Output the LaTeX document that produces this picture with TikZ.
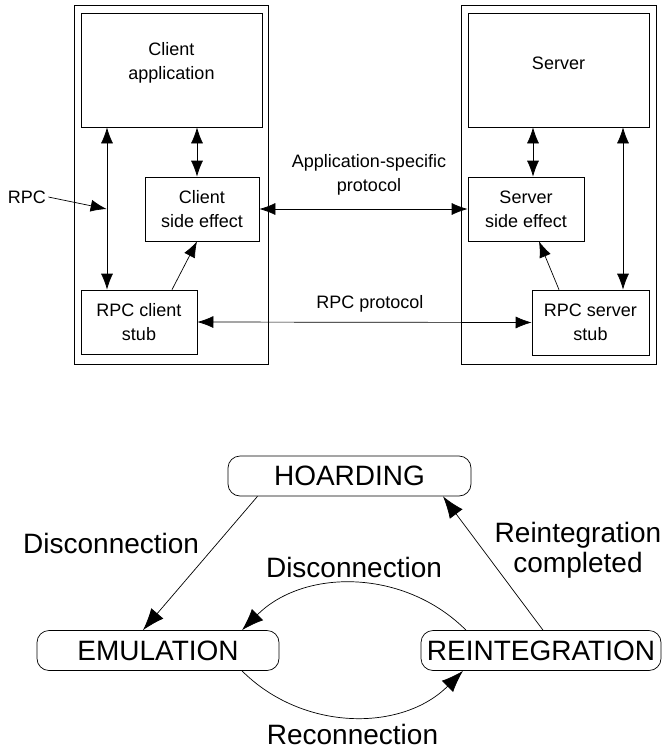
\documentclass[tikz,border=0pt]{standalone}
\usepackage{fontspec}
\setmainfont{Liberation Sans}
\usetikzlibrary{arrows.meta, positioning}

\begin{document}
\begin{tikzpicture}[x=1pt, y=-1pt, line width=0.7pt,
    box/.style={draw, inner sep=0pt, align=center, font=\fontsize{18}{24}\selectfont},
    lbl/.style={inner sep=2pt, align=center, font=\fontsize{18}{24}\selectfont},
    mode/.style={draw, rounded corners=12pt, inner sep=0pt, minimum height=40pt, font=\fontsize{28}{30}\selectfont},
    tag/.style={inner sep=0pt, align=center, font=\fontsize{28}{30}\selectfont},
    arr/.style={-{Latex[length=16pt,width=12pt]}},
    dbl/.style={{Latex[length=16pt,width=12pt]}-{Latex[length=16pt,width=12pt]}},
    big/.style={-{Latex[length=22pt,width=16pt]}}]
        \useasboundingbox (0,0) rectangle (662,750);

        \node[box, minimum width=194pt, minimum height=359pt] (cbox) at (171,184.5) {};
        \node[box, minimum width=181pt, minimum height=114pt, text depth=18pt] (capp) at (171.5,70) {Client\\application};
        \node[box, minimum width=114pt, minimum height=64pt] (cse) at (202,209) {Client\\side effect};
        \node[box, minimum width=116pt, minimum height=64pt] (cstub) at (139,322) {RPC client\\stub};

        \node[box, minimum width=195pt, minimum height=359pt] (sbox) at (558.5,184.5) {};
        \node[box, minimum width=181pt, minimum height=114pt, text depth=14pt] (srv) at (558.5,70) {Server};
        \node[box, minimum width=116pt, minimum height=64pt] (sse) at (526,209) {Server\\side effect};
        \node[box, minimum width=117pt, minimum height=65pt] (sstub) at (590.5,322.5) {RPC server\\stub};

        \node[lbl] (rpc) at (27,197) {RPC};
        \node[lbl] (asp) at (369,175) {Application-specific\\protocol};
        \node[lbl] (rpcp) at (370,304) {RPC protocol};

        \draw[dbl] ([xshift=-64.5pt]capp.south) -- ([xshift=-32pt]cstub.north);
        \draw[dbl] ([xshift=25.5pt]capp.south) -- ([xshift=-5pt]cse.north);
        \draw[arr] (rpc.east) -- ([xshift=-38pt]cse.west);
        \draw[arr] ([xshift=33pt]cstub.north) -- ([xshift=-5pt]cse.south);
        \draw[dbl] (cse.east) -- (sse.west);
        \draw[dbl] (cstub.east) -- (sstub.west);
        \draw[dbl] ([xshift=-25.5pt]srv.south) -- ([xshift=7pt]sse.north);
        \draw[dbl] ([xshift=64.5pt]srv.south) -- ([xshift=32.5pt]sstub.north);
        \draw[arr] ([xshift=-31.5pt]sstub.north) -- ([xshift=13pt]sse.south);

        \node[mode, minimum width=243pt] (hoard) at (349.5,476) {HOARDING};
        \node[mode, minimum width=242pt] (emu) at (158,650.5) {EMULATION};
        \node[mode, minimum width=240pt] (reint) at (541,650.5) {REINTEGRATION};

        \draw[big] ([xshift=-92pt]hoard.south) -- node[tag, left=18pt, pos=0.35] {Disconnection} ([xshift=-15pt]emu.north);
        \draw[big] ([xshift=-75pt]reint.north) to[bend right=45] node[tag, above=6pt] {Disconnection} ([xshift=84pt]emu.north);
        \draw[big] ([xshift=84pt]emu.south) to[bend right=45] node[tag, below=7pt] {Reconnection} ([xshift=-78pt]reint.south);
        \draw[big] ([xshift=2pt]reint.north) -- ([xshift=93.5pt]hoard.south);
        \node[tag] (done) at (578,550) {Reintegration\\completed};
\end{tikzpicture}
\end{document}
